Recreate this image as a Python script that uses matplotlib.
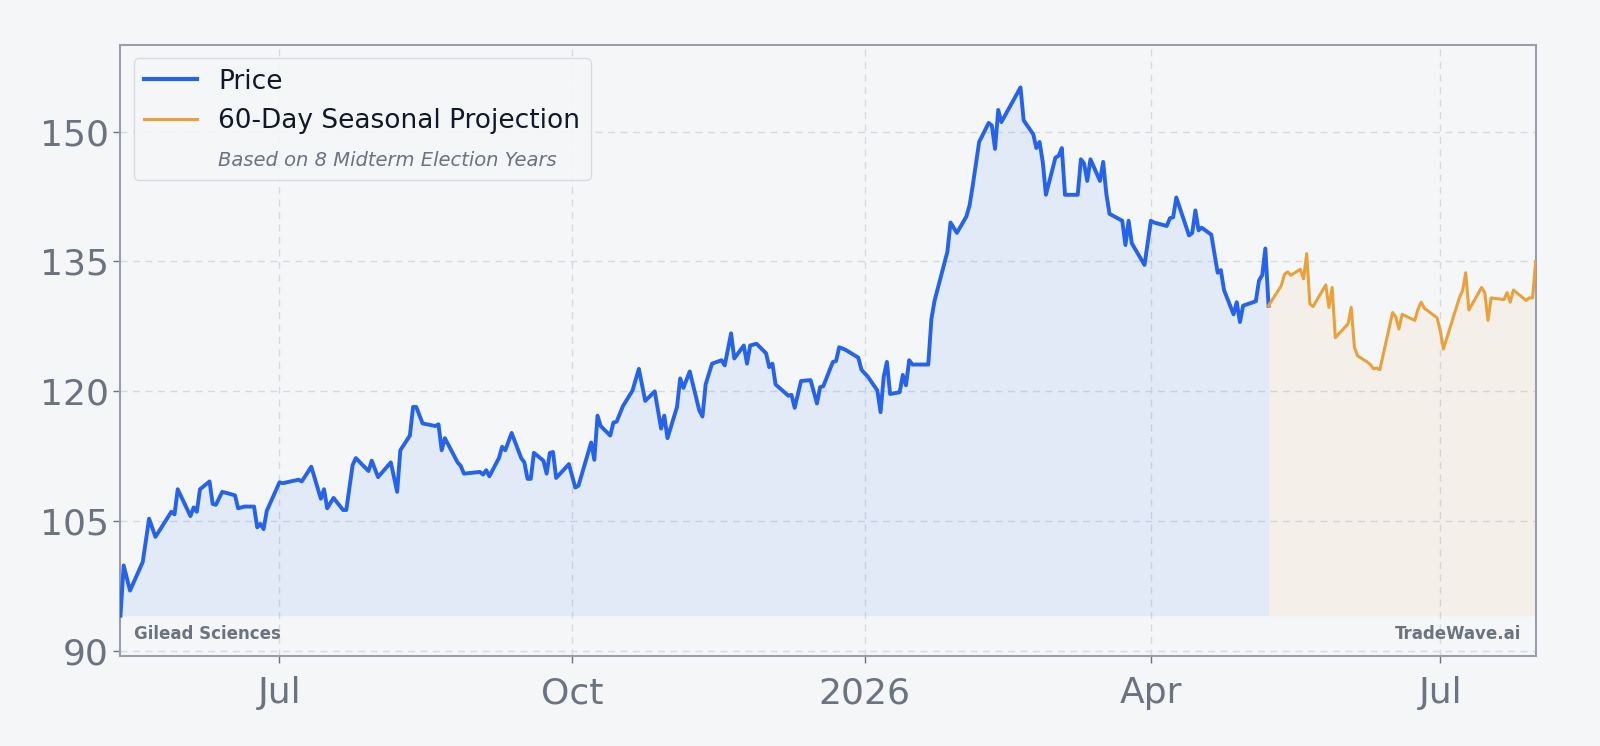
import matplotlib
matplotlib.use("Agg")
import matplotlib.pyplot as plt
import matplotlib.dates as mdates
from matplotlib.lines import Line2D
import pandas as pd

# Price history (turning points)
price_dates = [
    "2025-05-12", "2025-05-13", "2025-05-15", "2025-05-19", "2025-05-21", "2025-05-23",
    "2025-05-28", "2025-05-29", "2025-05-30", "2025-06-03", "2025-06-04", "2025-06-05",
    "2025-06-06", "2025-06-09", "2025-06-10", "2025-06-11", "2025-06-13", "2025-06-17",
    "2025-06-18", "2025-06-20", "2025-06-23", "2025-06-24", "2025-06-25", "2025-06-26",
    "2025-06-27", "2025-07-01", "2025-07-02", "2025-07-07", "2025-07-08", "2025-07-11",
    "2025-07-14", "2025-07-15", "2025-07-16", "2025-07-18", "2025-07-21", "2025-07-22",
    "2025-07-24", "2025-07-25", "2025-07-29", "2025-07-30", "2025-08-01", "2025-08-05",
    "2025-08-07", "2025-08-08", "2025-08-11", "2025-08-12", "2025-08-13", "2025-08-15",
    "2025-08-19", "2025-08-20", "2025-08-21", "2025-08-22", "2025-08-25", "2025-08-26",
    "2025-08-27", "2025-08-28", "2025-09-02", "2025-09-03", "2025-09-04", "2025-09-05",
    "2025-09-08", "2025-09-09", "2025-09-10", "2025-09-12", "2025-09-15", "2025-09-16",
    "2025-09-17", "2025-09-18", "2025-09-19", "2025-09-22", "2025-09-23", "2025-09-24",
    "2025-09-25", "2025-09-26", "2025-09-30", "2025-10-02", "2025-10-03", "2025-10-07",
    "2025-10-08", "2025-10-09", "2025-10-10", "2025-10-13", "2025-10-14", "2025-10-15",
    "2025-10-17", "2025-10-20", "2025-10-22", "2025-10-24", "2025-10-27", "2025-10-29",
    "2025-10-30", "2025-10-31", "2025-11-03", "2025-11-04", "2025-11-05", "2025-11-07",
    "2025-11-10", "2025-11-11", "2025-11-12", "2025-11-14", "2025-11-17", "2025-11-18",
    "2025-11-20", "2025-11-21", "2025-11-24", "2025-11-25", "2025-11-26", "2025-11-28",
    "2025-12-01", "2025-12-02", "2025-12-03", "2025-12-04", "2025-12-08", "2025-12-09",
    "2025-12-10", "2025-12-12", "2025-12-15", "2025-12-17", "2025-12-18", "2025-12-19",
    "2025-12-22", "2025-12-23", "2025-12-24", "2025-12-26", "2025-12-30", "2025-12-31",
    "2026-01-02", "2026-01-05", "2026-01-06", "2026-01-07", "2026-01-08", "2026-01-09",
    "2026-01-12", "2026-01-13", "2026-01-14", "2026-01-15", "2026-01-16", "2026-01-21",
    "2026-01-22", "2026-01-23", "2026-01-27", "2026-01-28", "2026-01-30", "2026-02-02",
    "2026-02-03", "2026-02-04", "2026-02-06", "2026-02-09", "2026-02-10", "2026-02-11",
    "2026-02-12", "2026-02-13", "2026-02-19", "2026-02-20", "2026-02-23", "2026-02-24",
    "2026-02-25", "2026-02-26", "2026-02-27", "2026-03-02", "2026-03-03", "2026-03-04",
    "2026-03-05", "2026-03-09", "2026-03-10", "2026-03-11", "2026-03-12", "2026-03-13",
    "2026-03-16", "2026-03-17", "2026-03-18", "2026-03-19", "2026-03-23", "2026-03-24",
    "2026-03-25", "2026-03-26", "2026-03-30", "2026-04-01", "2026-04-02", "2026-04-06",
    "2026-04-07", "2026-04-08", "2026-04-09", "2026-04-13", "2026-04-14", "2026-04-15",
    "2026-04-16", "2026-04-17", "2026-04-20", "2026-04-22", "2026-04-23", "2026-04-24",
    "2026-04-27", "2026-04-28", "2026-04-29", "2026-04-30", "2026-05-04", "2026-05-05",
    "2026-05-06", "2026-05-07", "2026-05-08",
]
price_values = [
    94.1, 99.9, 97.0, 100.3, 105.3, 103.2,
    106.1, 105.8, 108.7, 105.6, 106.6, 106.1,
    108.7, 109.6, 107.0, 106.9, 108.4, 108.0,
    106.5, 106.7, 106.7, 104.3, 104.7, 104.1,
    106.2, 109.5, 109.4, 109.8, 109.6, 111.3,
    107.6, 108.7, 106.5, 107.7, 106.3, 106.3,
    111.5, 112.3, 110.8, 112.0, 110.1, 111.8,
    108.4, 113.2, 114.9, 118.2, 118.2, 116.3,
    116.0, 116.2, 113.2, 114.6, 112.5, 111.8,
    111.4, 110.5, 110.7, 110.4, 110.9, 110.2,
    112.3, 113.6, 113.2, 115.2, 112.3, 111.8,
    109.9, 109.9, 112.9, 112.0, 110.5, 112.9,
    113.0, 110.0, 111.6, 108.9, 109.1, 114.1,
    112.1, 117.2, 116.0, 114.9, 116.4, 116.5,
    118.3, 120.1, 122.6, 118.9, 120.0, 115.7,
    117.2, 114.6, 118.2, 121.5, 120.4, 122.3,
    117.8, 117.1, 120.8, 123.2, 123.6, 123.0,
    126.7, 123.8, 125.3, 123.2, 125.3, 125.5,
    124.4, 122.8, 123.2, 120.8, 119.5, 119.6,
    118.1, 121.2, 121.3, 118.6, 120.5, 120.6,
    123.4, 123.5, 125.1, 124.8, 123.9, 122.5,
    121.7, 120.1, 117.6, 121.7, 123.4, 119.7,
    119.9, 121.9, 120.7, 123.6, 123.1, 123.1,
    128.4, 130.5, 136.1, 139.5, 138.3, 140.2,
    141.5, 143.8, 148.8, 151.0, 150.7, 148.0,
    152.5, 151.1, 155.1, 151.3, 149.7, 148.1,
    148.8, 146.5, 142.7, 147.0, 147.2, 148.1,
    142.7, 142.7, 146.8, 146.3, 144.3, 146.8,
    144.3, 146.5, 142.8, 140.5, 139.7, 136.9,
    139.7, 137.1, 134.6, 139.7, 139.5, 139.1,
    140.0, 140.1, 142.4, 138.0, 138.3, 140.9,
    138.6, 138.9, 138.1, 133.7, 134.0, 131.7,
    128.9, 130.3, 128.0, 129.9, 130.4, 132.8,
    133.4, 136.5, 129.9,
]

# 60-day seasonal projection: trading-day offset from the last close, value
proj_start = "2026-05-08"
proj_days = [
    0, 2, 3, 4, 5, 6, 7, 8, 9, 10, 12, 13, 14, 15, 17, 18, 19, 20, 21, 22, 23, 24, 25,
    27, 28, 29, 30, 32, 33, 34, 35, 37, 38, 39, 42, 43, 44, 45, 47, 48, 49, 50, 52, 53,
    54, 55, 57, 58, 59, 60,
]
proj_values = [
    129.9, 132.2, 133.5, 133.8, 133.4, 134.1, 133.0, 135.9, 130.1, 129.8, 132.3, 129.7,
    132.0, 126.2, 127.8, 129.7, 125.1, 124.1, 123.4, 123.1, 122.6, 122.7, 122.5,
    129.1, 128.6, 127.2, 128.9, 128.2, 129.5, 130.3, 129.6, 128.5, 127.0, 124.9, 130.8,
    131.6, 133.7, 129.4, 132.0, 131.4, 128.2, 130.8, 130.6, 131.4,
    130.3, 131.7, 130.5, 130.8, 130.8, 135.0,
]

y_ticks = [90, 105, 120, 135, 150]

BG = "#f5f6f8"
BLUE = "#2563eb"
ORANGE = "#e9a23b"
GRAY = "#6b7280"

# Build the date axes
price_x = pd.to_datetime(price_dates)
proj_all = pd.bdate_range(start=proj_start, periods=61)
proj_x = proj_all[proj_days]

fig = plt.figure(figsize=(16, 7.46), dpi=100, facecolor=BG)
ax = fig.add_axes([0.0753, 0.1213, 0.8845, 0.8184])
ax.set_facecolor(BG)

# Shaded areas down to the lowest price
base = min(price_values)
ax.fill_between(price_x, price_values, base, color="#3b82f6", alpha=0.1, linewidth=0)
ax.fill_between(proj_x, proj_values, base, color=ORANGE, alpha=0.08, linewidth=0)

ax.plot(price_x, price_values, color=BLUE, linewidth=2.8, zorder=3)
ax.plot(proj_x, proj_values, color=ORANGE, linewidth=2.2, zorder=3)

ax.set_xlim(price_x[0], proj_all[-1])
ax.set_ylim(89.5, 160)
ax.set_yticks(y_ticks)

ax.xaxis.set_major_locator(mdates.MonthLocator(bymonth=[1, 4, 7, 10]))
def fmt_date(x, pos=None):
    d = mdates.num2date(x)
    return str(d.year) if d.month == 1 else d.strftime("%b")
ax.xaxis.set_major_formatter(plt.FuncFormatter(fmt_date))

ax.grid(True, color="#d5d9e0", linestyle=(0, (5, 4)), linewidth=1.0)
ax.set_axisbelow(True)
ax.tick_params(axis="both", labelsize=26, colors=GRAY, length=5, width=1)
ax.tick_params(axis="x", pad=10)
for s in ax.spines.values():
    s.set_color("#9a9eab")
    s.set_linewidth(1.5)

# Legend with an extra note line
handles = [
    Line2D([], [], color=BLUE, linewidth=3),
    Line2D([], [], color=ORANGE, linewidth=2.2),
    Line2D([], [], color="none"),
]
labels = ["Price", "60-Day Seasonal Projection", "Based on 8 Midterm Election Years"]
leg = ax.legend(handles, labels, loc="upper left", fontsize=19, frameon=True,
                facecolor=BG, edgecolor="#d5d9e0", framealpha=0.9)
leg.get_texts()[2].set_fontstyle("italic")
leg.get_texts()[2].set_fontsize(14)
leg.get_texts()[2].set_color(GRAY)
for t in leg.get_texts()[:2]:
    t.set_color("#111827")

ax.text(0.0095, 0.035, "Gilead Sciences", transform=ax.transAxes, fontsize=12,
        fontweight="bold", color=GRAY, ha="left", va="center")
ax.text(0.9895, 0.035, "TradeWave.ai", transform=ax.transAxes, fontsize=12,
        fontweight="bold", color=GRAY, ha="right", va="center")

fig.savefig("out.png", dpi=100, facecolor=BG)
